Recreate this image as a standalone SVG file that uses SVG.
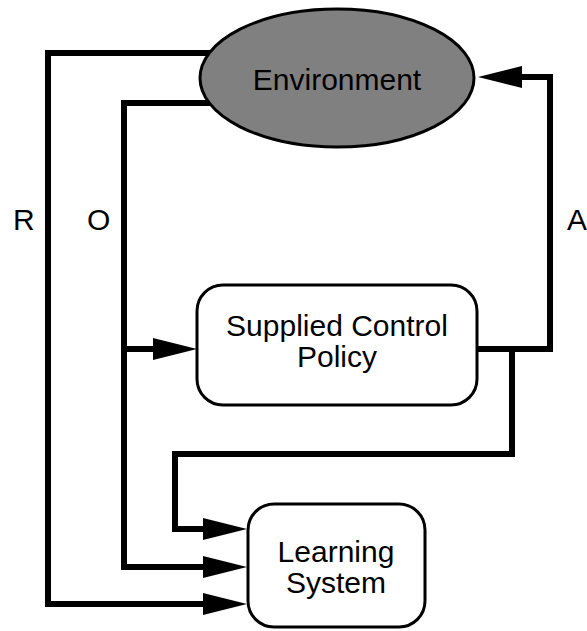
<svg xmlns="http://www.w3.org/2000/svg" width="587" height="631" viewBox="0 0 587 631">
<style>
.c{fill:none;stroke:#000;stroke-width:6;stroke-linejoin:miter;}
.n{stroke:#000;stroke-width:3;}
text{font-family:"Liberation Sans",Arial,sans-serif;font-size:30px;fill:#000;}
.m{text-anchor:middle;}
</style>
<defs>
<marker id="ah" markerUnits="userSpaceOnUse" markerWidth="44" markerHeight="22" refX="14" refY="11" orient="auto" overflow="visible">
<path d="M0,0 L44,11 L0,22 Z" fill="#000"/>
</marker>
</defs>
<g id="connectors">
<path class="c" d="M215,53 H48 V604 H217" marker-end="url(#ah)"/>
<path class="c" d="M215,103 H124 V567 H217" marker-end="url(#ah)"/>
<path class="c" d="M124,349 H167" marker-end="url(#ah)"/>
<path class="c" d="M475,349 H550 V77 H508" marker-end="url(#ah)"/>
<path class="c" d="M512,349 V454 H175 V529 H217" marker-end="url(#ah)"/>
</g>
<g id="environment">
<ellipse class="n" cx="337" cy="78" rx="137" ry="69" fill="#808080"/>
<text class="m" x="337" y="90">Environment</text>
</g>
<g id="policy">
<rect class="n" x="197" y="285" width="280" height="120" rx="26" fill="#fff"/>
<text class="m" x="337" y="336">Supplied Control</text>
<text class="m" x="337" y="367">Policy</text>
</g>
<g id="learning">
<rect class="n" x="248" y="504" width="177" height="123" rx="26" fill="#fff"/>
<text class="m" x="336" y="562">Learning</text>
<text class="m" x="336" y="593">System</text>
</g>
<g id="labels">
<text x="13" y="230">R</text>
<text x="87" y="230">O</text>
<text x="567" y="230">A</text>
</g>
</svg>
